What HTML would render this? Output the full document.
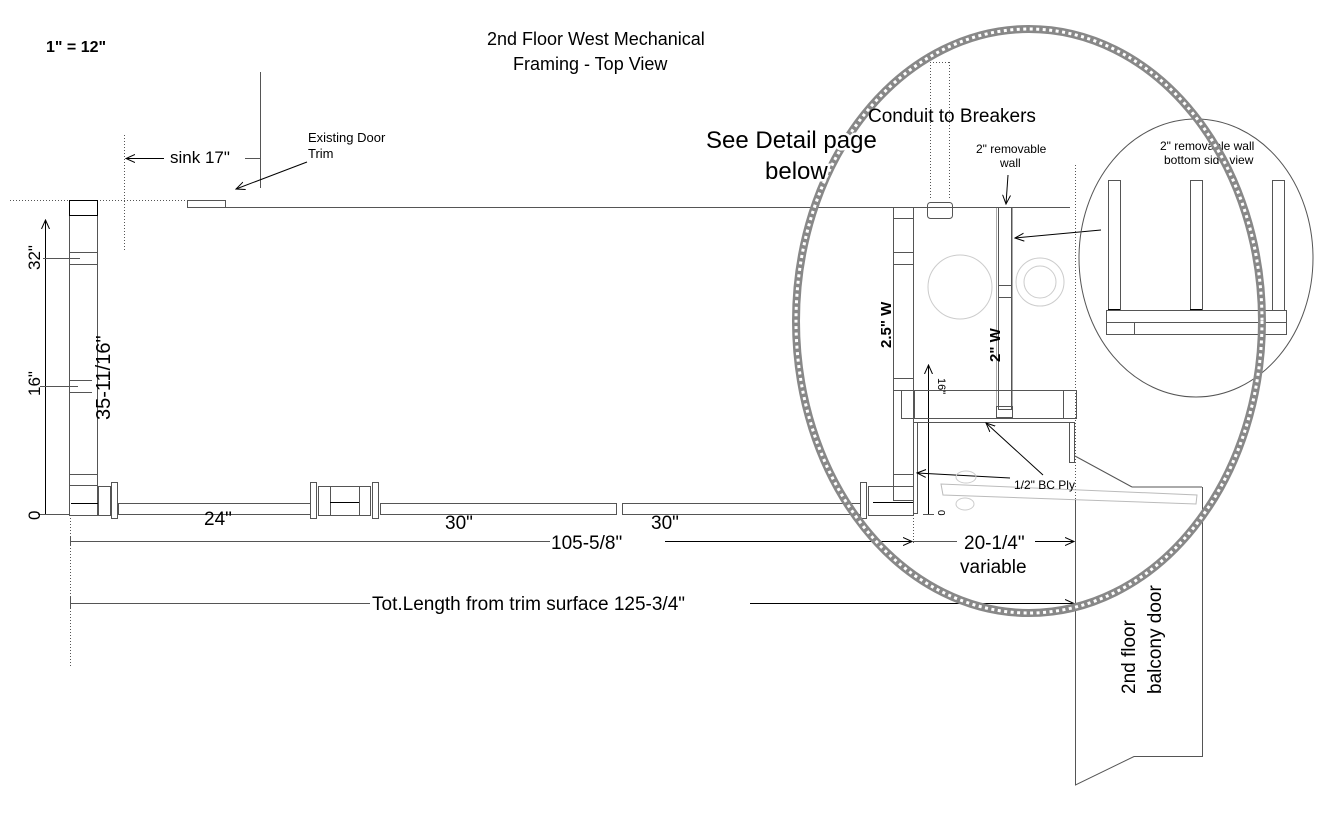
<!DOCTYPE html>
<html><head><meta charset="utf-8"><style>
html,body{margin:0;padding:0;background:#fff;}
svg{display:block;}
text{font-family:"Liberation Sans",Arial,sans-serif;fill:#000;}
</style></head><body>
<svg width="1344" height="816" viewBox="0 0 1344 816" xmlns="http://www.w3.org/2000/svg">
<defs>
<marker id="ar" markerWidth="10" markerHeight="10" refX="9" refY="5" orient="auto" markerUnits="userSpaceOnUse">
<path d="M0,1 L9,5 L0,9" fill="none" stroke="#000" stroke-width="1"/></marker>
</defs>
<text x="46" y="52" font-size="16" font-weight="bold">1" = 12"</text>
<text x="487" y="45" font-size="18">2nd Floor West Mechanical</text>
<text x="513" y="70" font-size="18">Framing - Top View</text>
<text x="976" y="153" font-size="12">2" removable</text>
<text x="1000" y="167" font-size="12">wall</text>
<text x="1160" y="150" font-size="12">2" removable wall</text>
<text x="1164" y="164" font-size="12">bottom side view</text>
<text x="308" y="142" font-size="13">Existing Door</text>
<text x="308" y="158" font-size="13">Trim</text>
<text x="170" y="163" font-size="17">sink 17"</text>

<g stroke="#555" stroke-width="1" fill="none">
<line x1="10" y1="200.5" x2="187" y2="200.5" stroke-dasharray="1,2"/>
<line x1="124.5" y1="135" x2="124.5" y2="250" stroke-dasharray="1,2"/>
<line x1="70.5" y1="515" x2="70.5" y2="668" stroke-dasharray="1,2"/>
<line x1="913.5" y1="515" x2="913.5" y2="545" stroke-dasharray="1,2"/>
<line x1="1075.5" y1="165" x2="1075.5" y2="545" stroke-dasharray="1,2"/>
<line x1="930.5" y1="62" x2="930.5" y2="200" stroke-dasharray="1,2"/>
<line x1="949.5" y1="62" x2="949.5" y2="200" stroke-dasharray="1,2"/>
<line x1="930" y1="62.5" x2="949" y2="62.5" stroke-dasharray="1,2"/>
<line x1="260.5" y1="72" x2="260.5" y2="188"/>
<line x1="245" y1="158.5" x2="260" y2="158.5"/>
<line x1="164" y1="158.5" x2="126" y2="158.5" stroke="#000" marker-end="url(#ar)"/>
<line x1="307" y1="162" x2="236" y2="189" stroke="#000" marker-end="url(#ar)"/>
<rect x="187.5" y="200.5" width="38" height="7"/>
<line x1="226" y1="207.5" x2="1070" y2="207.5"/>
<rect x="69.5" y="200.5" width="28" height="315"/>
<rect x="69.5" y="200.5" width="28" height="15" stroke="#000"/>
<line x1="70" y1="252.5" x2="98" y2="252.5"/><line x1="70" y1="264.5" x2="98" y2="264.5"/>
<line x1="70" y1="380.5" x2="92" y2="380.5"/><line x1="70" y1="392.5" x2="92" y2="392.5"/>
<line x1="70" y1="474.5" x2="98" y2="474.5"/><line x1="70" y1="485.5" x2="98" y2="485.5"/>
<line x1="71" y1="503.5" x2="98" y2="503.5" stroke="#000"/>
<line x1="45.5" y1="515" x2="45.5" y2="220" marker-end="url(#ar)" stroke="#000"/>
<line x1="43" y1="258.5" x2="80" y2="258.5"/>
<line x1="40" y1="386.5" x2="78" y2="386.5"/>
<line x1="38" y1="514.5" x2="70" y2="514.5"/>
<rect x="98.5" y="486.5" width="12" height="29"/>
<rect x="111.5" y="482.5" width="6" height="36"/>
<rect x="118.5" y="503.5" width="192" height="11"/>
<rect x="310.5" y="482.5" width="6" height="36"/>
<rect x="318.5" y="486.5" width="52" height="29"/>
<line x1="330.5" y1="486" x2="330.5" y2="515"/><line x1="359.5" y1="486" x2="359.5" y2="515"/>
<line x1="330" y1="502.5" x2="359" y2="502.5" stroke="#000"/>
<rect x="372.5" y="482.5" width="6" height="36"/>
<rect x="380.5" y="503.5" width="236" height="11"/>
<rect x="622.5" y="503.5" width="238" height="11"/>
<rect x="860.5" y="482.5" width="6" height="36"/>
<rect x="868.5" y="486.5" width="45" height="29"/>
<line x1="873" y1="502.5" x2="913" y2="502.5" stroke="#000"/>
<rect x="893.5" y="207.5" width="20" height="293"/>
<line x1="894" y1="218.5" x2="913" y2="218.5"/>
<line x1="894" y1="252.5" x2="913" y2="252.5"/><line x1="894" y1="264.5" x2="913" y2="264.5"/>
<line x1="894" y1="378.5" x2="913" y2="378.5"/><line x1="894" y1="390.5" x2="913" y2="390.5"/>
<line x1="894" y1="474.5" x2="913" y2="474.5"/><line x1="894" y1="486.5" x2="913" y2="486.5"/>
<rect x="913.5" y="422.5" width="4" height="91"/>
<line x1="928.5" y1="514" x2="928.5" y2="365" stroke="#000" marker-end="url(#ar)"/>
<line x1="923" y1="514.5" x2="934" y2="514.5"/>
<rect x="927.5" y="202.5" width="25" height="16" rx="3"/>
<rect x="996.5" y="207.5" width="16" height="210" stroke-dasharray="1,1"/>
<rect x="998.5" y="207.5" width="13" height="202"/>
<line x1="998" y1="285.5" x2="1012" y2="285.5"/><line x1="998" y1="297.5" x2="1012" y2="297.5"/>
<rect x="996.5" y="406.5" width="16" height="11"/>
<line x1="1008" y1="175" x2="1006" y2="204" stroke="#000" marker-end="url(#ar)"/>
<line x1="1101" y1="230" x2="1015" y2="238" stroke="#000" marker-end="url(#ar)"/>
<circle cx="960" cy="287" r="32" stroke="#ccc"/>
<circle cx="1040" cy="282" r="24" stroke="#ccc"/>
<circle cx="1040" cy="282" r="16" stroke="#ccc"/>
<rect x="901.5" y="390.5" width="175" height="28"/>
<line x1="914.5" y1="391" x2="914.5" y2="418"/><line x1="1063.5" y1="391" x2="1063.5" y2="418"/>
<line x1="914" y1="422.5" x2="1075" y2="422.5"/>
<rect x="1069.5" y="422.5" width="5" height="40"/>
<line x1="1075" y1="456" x2="1132" y2="487"/>
<line x1="1132" y1="487" x2="1202" y2="487"/>
<line x1="1043" y1="475" x2="986" y2="423" stroke="#000" marker-end="url(#ar)"/>
<line x1="1010" y1="478" x2="917" y2="473" stroke="#000" marker-end="url(#ar)"/>
<polygon points="941,484 943,495 1196,504 1197,495" stroke="#bbb"/>
<ellipse cx="966" cy="477" rx="10" ry="6" stroke="#ccc"/>
<ellipse cx="965" cy="504" rx="9" ry="6" stroke="#ccc"/>
<polyline points="1075.5,500 1075.5,785 1134,756.5 1202.5,756.5 1202.5,487"/>
<line x1="70" y1="541.5" x2="550" y2="541.5"/>
<line x1="665" y1="541.5" x2="912" y2="541.5" stroke="#000" marker-end="url(#ar)"/>
<line x1="913" y1="541.5" x2="957" y2="541.5"/>
<line x1="1035" y1="541.5" x2="1074" y2="541.5" stroke="#000" marker-end="url(#ar)"/>
<line x1="70" y1="603.5" x2="370" y2="603.5"/>
<line x1="750" y1="603.5" x2="1074" y2="603.5" stroke="#000" marker-end="url(#ar)"/>
<line x1="70.5" y1="597" x2="70.5" y2="609"/>
<line x1="70.5" y1="536" x2="70.5" y2="546"/>
<ellipse cx="1196" cy="258" rx="117" ry="139"/>
<rect x="1108.5" y="180.5" width="12" height="130"/>
<rect x="1190.5" y="180.5" width="12" height="130"/>
<rect x="1272.5" y="180.5" width="12" height="130"/>
<line x1="1108" y1="309.5" x2="1120" y2="309.5" stroke="#000"/>
<line x1="1190" y1="309.5" x2="1202" y2="309.5" stroke="#000"/>
<rect x="1106.5" y="310.5" width="180" height="12"/>
<rect x="1106.5" y="322.5" width="180" height="12"/>
<line x1="1134.5" y1="322" x2="1134.5" y2="334"/>
</g>
<ellipse cx="1029" cy="321" rx="233" ry="292" fill="none" stroke="#888" stroke-width="8"/>
<ellipse cx="1029" cy="321" rx="233" ry="292" fill="none" stroke="#fff" stroke-width="3" stroke-dasharray="3,3.5"/>
<text x="706" y="148" font-size="24" stroke="#fff" stroke-width="5" paint-order="stroke">See Detail page</text>
<text x="765" y="179" font-size="24" stroke="#fff" stroke-width="5" paint-order="stroke">below</text>
<text x="868" y="122" font-size="19">Conduit to Breakers</text>
<text font-size="17" transform="translate(40,270) rotate(-90)">32"</text>
<text font-size="17" transform="translate(40,396) rotate(-90)">16"</text>
<text font-size="17" transform="translate(40,520) rotate(-90)">0</text>
<text font-size="20" transform="translate(110,420) rotate(-90)">35-11/16"</text>
<text x="204" y="525" font-size="19">24"</text>
<text x="445" y="529" font-size="19">30"</text>
<text x="651" y="529" font-size="19">30"</text>
<text x="551" y="549" font-size="19">105-5/8"</text>
<text x="964" y="549" font-size="19">20-1/4"</text>
<text x="960" y="573" font-size="19">variable</text>
<text x="372" y="610" font-size="19">Tot.Length from trim surface 125-3/4"</text>
<text font-size="15" font-weight="bold" transform="translate(891,348) rotate(-90)">2.5" W</text>
<text font-size="15" font-weight="bold" transform="translate(1000,362) rotate(-90)">2" W</text>
<text font-size="11" transform="translate(938,378) rotate(90)">16"</text>
<text font-size="10" transform="translate(938,510) rotate(90)">0</text>
<text x="1014" y="489" font-size="12">1/2" BC Ply</text>
<text font-size="19" transform="translate(1135,694) rotate(-90)">2nd floor</text>
<text font-size="19" transform="translate(1161,694) rotate(-90)">balcony door</text>
</svg>
</body></html>
